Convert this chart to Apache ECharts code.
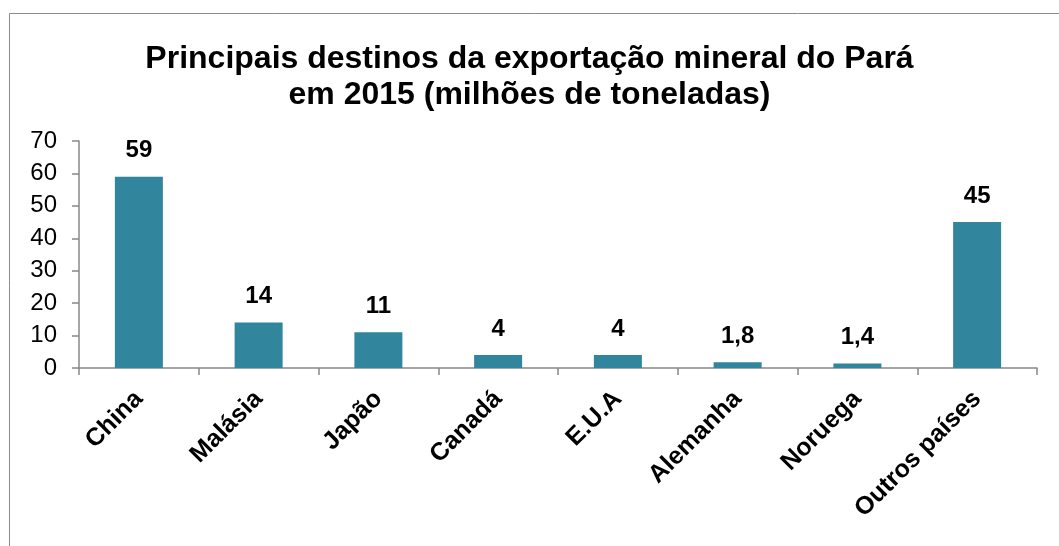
<!DOCTYPE html>
<html>
<head>
<meta charset="utf-8">
<script src="https://cdn.jsdelivr.net/npm/echarts@6/dist/echarts.min.js"></script>
<style>
  html, body { margin: 0; padding: 0; background: #fff; }
  #chart { width: 1059px; height: 546px; }
</style>
</head>
<body>
<div id="chart"></div>
<script>
  // destinos e toneladas (milhões)
  var paises = ['China', 'Malásia', 'Japão', 'Canadá', 'E.U.A', 'Alemanha', 'Noruega', 'Outros países'];
  var toneladas = [59, 14, 11, 4, 4, 1.8, 1.4, 45];
  var yTicks = [0, 10, 20, 30, 40, 50, 60, 70];

  var myChart = echarts.init(document.getElementById('chart'));
  var fonte = 'Liberation Sans, Arial, sans-serif';

  var option = {
    animation: false,
    title: {
      text: 'Principais destinos da exportação mineral do Pará\nem 2015 (milhões de toneladas)',
      left: 'center',
      top: 36,
      textStyle: {
        fontFamily: fonte,
        fontSize: 32,
        fontWeight: 'bold',
        color: '#000',
        lineHeight: 36
      }
    },
    graphic: [{
      type: 'rect',
      shape: { x: 9.5, y: 13.5, width: 1100, height: 600 },
      style: { fill: 'none', stroke: '#8c8c8c', lineWidth: 1 },
      silent: true
    }],
    grid: { left: 79, right: 22, top: 141, bottom: 178 },
    xAxis: {
      type: 'category',
      data: paises,
      axisLine: { lineStyle: { color: '#888', width: 1.5 } },
      axisTick: { show: true, length: 7, lineStyle: { color: '#888', width: 1.5 } },
      axisLabel: {
        rotate: 45,
        interval: 0,
        margin: 27,
        fontFamily: fonte,
        fontSize: 25,
        fontWeight: 'bold',
        color: '#000'
      }
    },
    yAxis: {
      type: 'value',
      min: yTicks[0],
      max: yTicks[yTicks.length - 1],
      interval: 10,
      axisLine: { show: true, lineStyle: { color: '#888', width: 1.5 } },
      axisTick: { show: true, length: 7, lineStyle: { color: '#888', width: 1.5 } },
      splitLine: { show: false },
      axisLabel: {
        margin: 22,
        fontFamily: fonte,
        fontSize: 24,
        color: '#000'
      }
    },
    series: [{
      type: 'bar',
      data: toneladas,
      barWidth: 48,
      itemStyle: { color: '#31859c' },
      label: {
        show: true,
        position: 'top',
        distance: 14,
        fontFamily: fonte,
        fontSize: 24,
        fontWeight: 'bold',
        color: '#000',
        formatter: function (p) { return String(p.value).replace('.', ','); }
      }
    }]
  };

  myChart.setOption(option);
</script>
</body>
</html>
